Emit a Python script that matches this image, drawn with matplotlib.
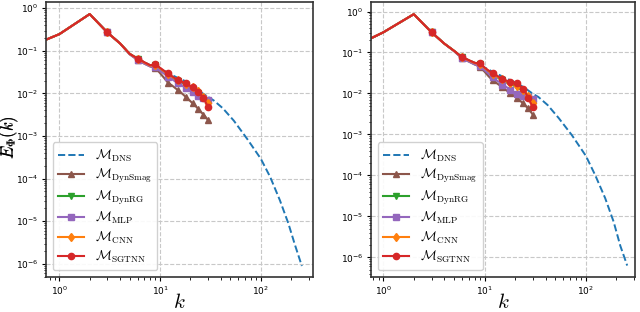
import matplotlib
matplotlib.use("Agg")
import matplotlib.pyplot as plt

plt.rcParams['mathtext.fontset'] = 'cm'

# wavenumbers of the LES runs (first point sits just left of the axis)
k_les = [0.5, 1, 2, 3, 4, 5, 6, 7, 8, 9, 10, 11, 12, 13, 14, 15, 16, 17, 18, 19,
         20, 21, 22, 23, 24, 25, 26, 27, 28, 29, 30]
k_dns = [0.5, 1, 2, 3, 4, 5, 6, 7, 8, 9, 10, 12, 15, 18, 21, 25, 30, 34, 42, 54,
         73, 100, 124, 155, 188, 219, 256]

# left panel
dns_a = [0.125, 0.247, 0.73, 0.27, 0.15, 0.085, 0.066, 0.054, 0.046, 0.046, 0.039,
         0.030, 0.0232, 0.0193, 0.0161, 0.011, 0.0083, 0.0069, 0.0045, 0.0023,
         8.7e-4, 2.95e-4, 1.1e-4, 3.1e-5, 8.9e-6, 2.75e-6, 8.9e-7]
smag_a = [0.125, 0.247, 0.73, 0.27, 0.15, 0.083, 0.061, 0.050, 0.043, 0.040, 0.030,
          0.023, 0.0178, 0.0157, 0.0137, 0.012, 0.0107, 0.0094, 0.0083, 0.0074,
          0.0066, 0.0059, 0.0054, 0.0048, 0.0043, 0.0039, 0.0035, 0.0032, 0.0029,
          0.0026, 0.0024]
rg_a = [0.125, 0.247, 0.73, 0.27, 0.15, 0.085, 0.065, 0.053, 0.045, 0.046, 0.038,
        0.032, 0.027, 0.024, 0.0215, 0.020, 0.0185, 0.0172, 0.016, 0.0148, 0.0138,
        0.013, 0.012, 0.0112, 0.0104, 0.0096, 0.0088, 0.008, 0.0071, 0.0063, 0.0056]
mlp_a = [0.125, 0.247, 0.73, 0.27, 0.15, 0.083, 0.061, 0.050, 0.043, 0.041, 0.034,
         0.029, 0.025, 0.022, 0.0195, 0.0175, 0.016, 0.0147, 0.0135, 0.0124, 0.0115,
         0.0107, 0.0099, 0.0093, 0.0088, 0.0084, 0.0081, 0.0078, 0.0076, 0.0074, 0.0072]
cnn_a = [0.125, 0.247, 0.73, 0.27, 0.15, 0.085, 0.065, 0.053, 0.045, 0.047, 0.039,
         0.033, 0.029, 0.025, 0.0225, 0.021, 0.019, 0.018, 0.0168, 0.0157, 0.0147,
         0.014, 0.013, 0.012, 0.0112, 0.0102, 0.0093, 0.0084, 0.0075, 0.0067, 0.006]
sgt_a = [0.125, 0.247, 0.73, 0.27, 0.15, 0.085, 0.066, 0.054, 0.046, 0.049, 0.040,
         0.034, 0.0295, 0.026, 0.023, 0.0205, 0.0195, 0.0183, 0.0172, 0.016, 0.015,
         0.0143, 0.0132, 0.0121, 0.011, 0.0099, 0.0088, 0.0077, 0.0066, 0.0056, 0.0047]

# right panel
dns_b = [0.135, 0.31, 0.86, 0.31, 0.165, 0.11, 0.077, 0.065, 0.056, 0.053, 0.043,
         0.034, 0.026, 0.021, 0.0178, 0.0135, 0.0098, 0.0082, 0.0052, 0.0025,
         9.5e-4, 3.0e-4, 1.0e-4, 2.8e-5, 7.4e-6, 1.9e-6, 6.3e-7]
smag_b = [0.135, 0.31, 0.86, 0.31, 0.165, 0.108, 0.072, 0.060, 0.051, 0.045, 0.034,
          0.026, 0.021, 0.0183, 0.016, 0.014, 0.0125, 0.0112, 0.010, 0.0092, 0.0084,
          0.0076, 0.0069, 0.0063, 0.0057, 0.0052, 0.0047, 0.0043, 0.0038, 0.0034, 0.0030]
rg_b = [0.135, 0.31, 0.86, 0.31, 0.165, 0.11, 0.076, 0.064, 0.055, 0.051, 0.041,
        0.034, 0.029, 0.026, 0.023, 0.021, 0.019, 0.018, 0.017, 0.016, 0.015, 0.0142,
        0.0133, 0.0124, 0.0115, 0.0104, 0.0092, 0.008, 0.0069, 0.0061, 0.0055]
mlp_b = [0.135, 0.31, 0.86, 0.31, 0.165, 0.108, 0.072, 0.060, 0.051, 0.046, 0.037,
         0.030, 0.025, 0.021, 0.019, 0.0165, 0.015, 0.0135, 0.0123, 0.011, 0.0102,
         0.0095, 0.0092, 0.009, 0.0088, 0.0086, 0.0083, 0.0081, 0.0078, 0.0076, 0.0074]
cnn_b = [0.135, 0.31, 0.86, 0.31, 0.165, 0.11, 0.076, 0.064, 0.055, 0.052, 0.042,
         0.035, 0.030, 0.027, 0.024, 0.022, 0.020, 0.019, 0.018, 0.017, 0.016, 0.0153,
         0.0143, 0.0133, 0.0123, 0.0112, 0.0098, 0.0085, 0.0073, 0.0064, 0.0057]
sgt_b = [0.135, 0.31, 0.86, 0.31, 0.165, 0.11, 0.077, 0.065, 0.056, 0.054, 0.043,
         0.036, 0.032, 0.028, 0.025, 0.023, 0.021, 0.020, 0.019, 0.018, 0.0178,
         0.0175, 0.016, 0.0145, 0.013, 0.0113, 0.0094, 0.0076, 0.0064, 0.0054, 0.0046]

labels = [r'$\mathcal{M}_{\rm DNS}$', r'$\mathcal{M}_{\rm DynSmag}$',
          r'$\mathcal{M}_{\rm DynRG}$', r'$\mathcal{M}_{\rm MLP}$',
          r'$\mathcal{M}_{\rm CNN}$', r'$\mathcal{M}_{\rm SGTNN}$']
colors = ['tab:brown', 'tab:green', 'tab:purple', 'tab:orange', 'tab:red']
markers = ['^', 'v', 's', 'd', 'o']

panels = [
    (dns_a, [smag_a, rg_a, mlp_a, cnn_a, sgt_a], (0.738, 330), (4.9e-7, 1.39)),
    (dns_b, [smag_b, rg_b, mlp_b, cnn_b, sgt_b], (0.76, 307), (3.3e-7, 1.69)),
]

fig = plt.figure(figsize=(6.4, 3.12), dpi=100)
boxes = [[0.072, 0.112, 0.417, 0.881], [0.580, 0.112, 0.4125, 0.881]]

for box, (dns, les, xl, yl) in zip(boxes, panels):
    ax = fig.add_axes(box)
    ax.loglog(k_dns, dns, '--', color='tab:blue', lw=1.4, label=labels[0])
    for y, c, m, lab in zip(les, colors, markers, labels[1:]):
        ax.loglog(k_les, y, color=c, marker=m, ms=4.5, lw=1.5,
                  markevery=3, label=lab)
    ax.set_xlim(*xl)
    ax.set_ylim(*yl)
    ax.grid(True, which='major', ls='--', color='#c8c8c8', lw=0.8)
    ax.tick_params(labelsize=6.5, length=3, width=0.8, pad=2.5)
    ax.tick_params(which='minor', length=1.8, width=0.6)
    for s in ax.spines.values():
        s.set_color('#333333')
        s.set_linewidth(1.2)
    ax.set_xlabel(r'$k$', fontsize=15, labelpad=-4)
    ax.set_ylabel(r'$E_\Phi(k)$', fontsize=12)
    # right side of the rotated y label about 20 px from the figure's left
    ax.yaxis.set_label_coords(-(box[0] * 640 - 20.5) / (box[2] * 640), 0.51)
    ax.legend(loc='lower left', fontsize=9.5, handlelength=2.0,
              labelspacing=0.25, borderpad=0.4, framealpha=0.9)

fig.savefig('out.png', dpi=100)
